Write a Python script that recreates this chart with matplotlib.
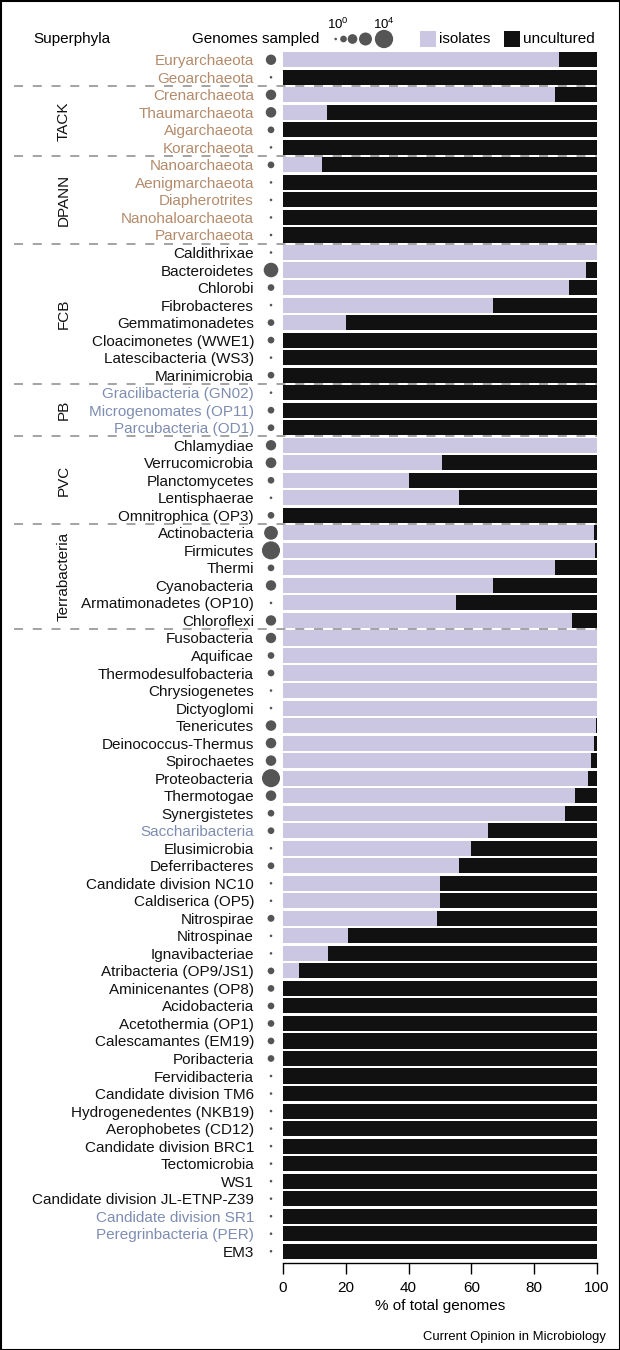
import matplotlib
matplotlib.use("Agg")
import matplotlib.pyplot as plt
import numpy as np
from matplotlib.transforms import blended_transform_factory
from matplotlib.patches import Rectangle

plt.rcParams['font.family'] = ['Liberation Sans', 'DejaVu Sans']
plt.rcParams['mathtext.fontset'] = 'custom'
plt.rcParams['mathtext.rm'] = 'Liberation Sans'
plt.rcParams['mathtext.it'] = 'Liberation Sans'
plt.rcParams['lines.scale_dashes'] = False

# ---------------- data ----------------
phyla = [
    "Euryarchaeota", "Geoarchaeota",
    "Crenarchaeota", "Thaumarchaeota", "Aigarchaeota", "Korarchaeota",
    "Nanoarchaeota", "Aenigmarchaeota", "Diapherotrites", "Nanohaloarchaeota", "Parvarchaeota",
    "Caldithrixae", "Bacteroidetes", "Chlorobi", "Fibrobacteres", "Gemmatimonadetes",
    "Cloacimonetes (WWE1)", "Latescibacteria (WS3)", "Marinimicrobia",
    "Gracilibacteria (GN02)", "Microgenomates (OP11)", "Parcubacteria (OD1)",
    "Chlamydiae", "Verrucomicrobia", "Planctomycetes", "Lentisphaerae", "Omnitrophica (OP3)",
    "Actinobacteria", "Firmicutes", "Thermi", "Cyanobacteria", "Armatimonadetes (OP10)", "Chloroflexi",
    "Fusobacteria", "Aquificae", "Thermodesulfobacteria", "Chrysiogenetes", "Dictyoglomi",
    "Tenericutes", "Deinococcus-Thermus", "Spirochaetes", "Proteobacteria", "Thermotogae",
    "Synergistetes", "Saccharibacteria", "Elusimicrobia", "Deferribacteres",
    "Candidate division NC10", "Caldiserica (OP5)", "Nitrospirae", "Nitrospinae",
    "Ignavibacteriae", "Atribacteria (OP9/JS1)", "Aminicenantes (OP8)", "Acidobacteria",
    "Acetothermia (OP1)", "Calescamantes (EM19)", "Poribacteria", "Fervidibacteria",
    "Candidate division TM6", "Hydrogenedentes (NKB19)", "Aerophobetes (CD12)",
    "Candidate division BRC1", "Tectomicrobia", "WS1", "Candidate division JL-ETNP-Z39",
    "Candidate division SR1", "Peregrinbacteria (PER)", "EM3",
]

pct_isolates = [
    88, 0,
    86.5, 14, 0, 0,
    12.5, 0, 0, 0, 0,
    100, 96.5, 91, 67, 20, 0, 0, 0,
    0, 0, 0,
    100, 50.7, 40, 56, 0,
    99.2, 99.3, 86.5, 67, 55, 92,
    100, 100, 100, 100, 100,
    99.6, 99.2, 98, 97.2, 93,
    89.8, 65.3, 60, 56,
    50, 50, 49, 20.7,
    14.3, 5, 0, 0,
    0, 0, 0, 0,
    0, 0, 0,
    0, 0, 0, 0,
    0, 0, 0,
]

genomes = [
    160, 1,
    170, 180, 10, 1,
    10, 1, 1, 1, 1,
    1, 2000, 10, 1, 10, 10, 1, 10,
    1, 10, 10,
    160, 200, 10, 1, 10,
    1400, 9000, 10, 160, 1, 160,
    160, 10, 10, 1, 1,
    180, 180, 180, 9000, 180,
    10, 10, 1, 10,
    1, 1, 12, 1,
    1, 10, 10, 10,
    10, 10, 10, 1,
    1, 1, 1,
    1, 1, 1, 1,
    1, 1, 1,
]

# label colour class: 'a' archaea (brown), 'c' CPR (blue), 'b' other bacteria (black)
label_class = (["a"] * 11 + ["b"] * 8 + ["c"] * 3 + ["b"] * 22 + ["c"] + ["b"] * 21 + ["c", "c", "b"])

superphyla = ["TACK", "DPANN", "FCB", "PB", "PVC", "Terrabacteria"]
superphyla_start = [2, 6, 11, 19, 22, 27]
superphyla_end = [5, 10, 18, 21, 26, 32]
group_breaks = [2, 6, 11, 19, 22, 27, 33]

xticks = [0, 20, 40, 60, 80, 100]
legend_exponents = [0, 1, 2, 3, 4]

# ---------------- style ----------------
LAV = "#CBC7E3"
BLK = "#111111"
DOT = "#555555"
col_map = {"a": "#B48B6B", "b": "#111111", "c": "#7D8DB2"}

# circle diameter (px) against log10(genomes), as in the key
key_diam = [2.6, 6.7, 9.7, 13.0, 18.3]
def diam_px(count):
    return np.interp(np.log10(count), legend_exponents, key_diam)

W, H = 620, 1350
fig = plt.figure(figsize=(W / 100, H / 100), dpi=100)

ax_left, ax_right = 283, 597
ax_top, ax_bot = 51, 1260
ax = fig.add_axes([ax_left / W, 1 - ax_bot / H, (ax_right - ax_left) / W, (ax_bot - ax_top) / H])

n = len(phyla)
y = np.arange(n)
iso = np.array(pct_isolates, dtype=float)
unc = 100 - iso
bh = 0.86
ax.barh(y, iso, height=bh, color=LAV, linewidth=0)
ax.barh(y, unc, left=iso, height=bh, color=BLK, linewidth=0)
ax.set_xlim(0, 100)
ax.set_ylim(n - 0.5, -0.5)

# genome dots
d = np.array([diam_px(c) for c in genomes])
s = (d * 0.72) ** 2
ax.scatter(np.full(n, (271 - ax_left) / (ax_right - ax_left) * 100), y, s=s,
           color=DOT, linewidths=0, clip_on=False, zorder=3)

# y labels
ax.set_yticks(y)
ax.set_yticklabels(phyla, fontsize=11)
for lab, cl in zip(ax.get_yticklabels(), label_class):
    lab.set_color(col_map[cl])
ax.tick_params(axis='y', length=0, pad=(ax_left - 254) * 0.72)

# x axis
for sp in ["top", "right", "left"]:
    ax.spines[sp].set_visible(False)
ax.spines["bottom"].set_position(("outward", 3 * 0.72))
ax.spines["bottom"].set_linewidth(1.0)
ax.set_xticks(xticks)
ax.set_xticklabels([str(t) for t in xticks], fontsize=11)
ax.tick_params(axis='x', length=11 * 0.72, width=1.0, pad=5)
ax.set_xlabel("% of total genomes", fontsize=11, labelpad=3)

# dashed separators
bt = blended_transform_factory(ax.transAxes, ax.transData)
x0 = (14 - ax_left) / (ax_right - ax_left)
for b in group_breaks:
    ax.plot([x0, 1.0], [b - 0.5, b - 0.5], transform=bt, clip_on=False,
            color="#9c9c9c", lw=1.3, ls=(0, (6.5, 7)), zorder=4)

# superphyla labels
bt2 = blended_transform_factory(fig.transFigure, ax.transData)
for name, a, b in zip(superphyla, superphyla_start, superphyla_end):
    ax.text(64 / W, (a + b) / 2, name, transform=bt2, rotation=90,
            ha="center", va="center", fontsize=11, color="#111111")

# header (pixel-coordinate overlay)
lax = fig.add_axes([0, 0, 1, 1], facecolor="none")
lax.set_xlim(0, W)
lax.set_ylim(H, 0)
lax.axis("off")
lax.text(33, 39, "Superphyla", fontsize=11, va="center", ha="left")
lax.text(319, 39, "Genomes sampled", fontsize=11, va="center", ha="right")
key_x = [335.7, 343.5, 352.5, 365.5, 384.0]
legend_sizes = [(diam_px(10 ** e) * 0.72) ** 2 for e in legend_exponents]
lax.scatter(key_x, [39] * len(key_x), s=legend_sizes, color=DOT, linewidths=0)
lax.text(key_x[0] + 2, 24, r"$10^0$", fontsize=9.5, ha="center", va="center")
lax.text(key_x[-1], 24, r"$10^4$", fontsize=9.5, ha="center", va="center")
lax.add_patch(Rectangle((420, 31), 16, 16, color=LAV, lw=0))
lax.text(439, 39, "isolates", fontsize=11, va="center", ha="left")
lax.add_patch(Rectangle((504, 31), 16, 16, color=BLK, lw=0))
lax.text(523, 39, "uncultured", fontsize=11, va="center", ha="left")
lax.text(606, 1337, "Current Opinion in Microbiology", fontsize=9.4, ha="right", va="center")
lax.add_patch(Rectangle((0.5, 0.5), W - 1, H - 1, fill=False, ec="black", lw=1.5))

fig.savefig("out.png", dpi=100)
